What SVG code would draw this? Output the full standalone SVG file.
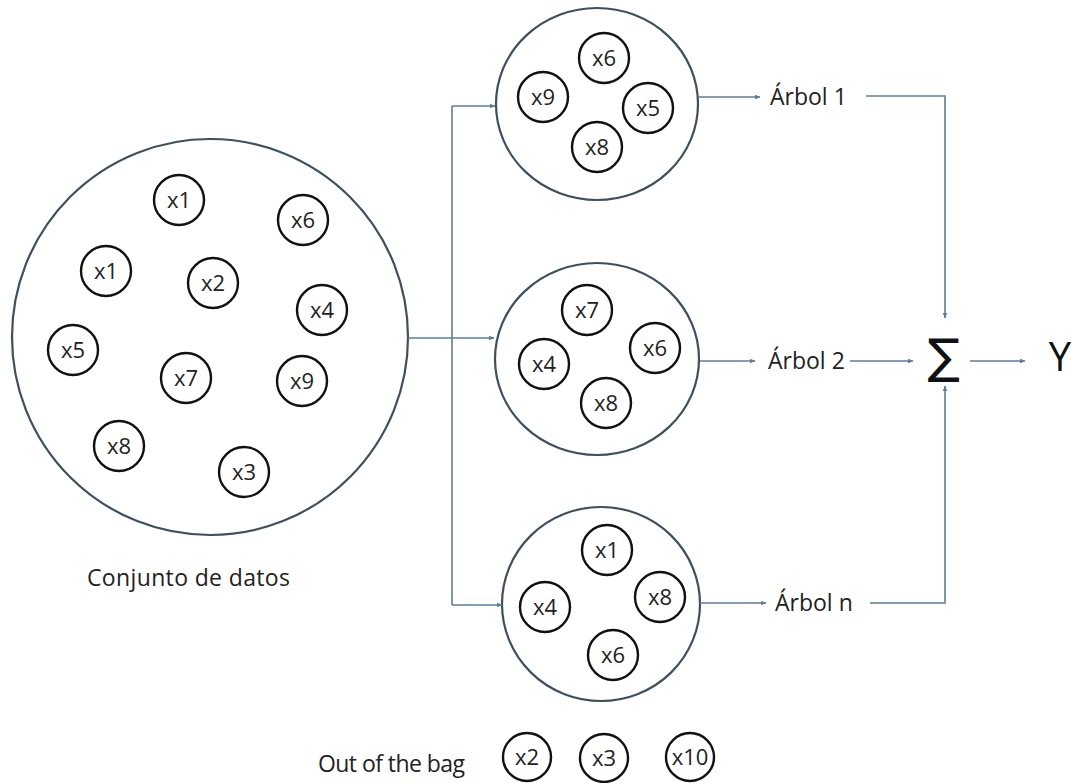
<svg xmlns="http://www.w3.org/2000/svg" width="1072" height="783" viewBox="0 0 1072 783">
<style>
.bag{fill:none;stroke:#3e4f60;stroke-width:2.2}
.it{fill:none;stroke:#111;stroke-width:2.4}
.lb{font-family:"Open Sans","Liberation Sans",sans-serif;font-size:22px;fill:#222;text-anchor:middle}
.tx{font-family:"Open Sans","Liberation Sans",sans-serif;font-size:23px;fill:#222}
.cn{fill:none;stroke:#5e7d98;stroke-width:1.6}
</style>
<defs>
<marker id="ah" viewBox="0 0 10 10" refX="9" refY="5" markerWidth="6" markerHeight="6" orient="auto" markerUnits="userSpaceOnUse">
<path d="M0,1 L10,5 L0,9 z" fill="#5e7d98"/>
</marker>
</defs>
<rect width="1072" height="783" fill="#fff"/>
<g id="conjunto">
<circle class="bag" cx="210" cy="337" r="198"/>
<circle class="it" cx="179" cy="200" r="25"/><text class="lb" x="179" y="208">x1</text>
<circle class="it" cx="303" cy="220" r="25"/><text class="lb" x="303" y="228">x6</text>
<circle class="it" cx="106" cy="271" r="25"/><text class="lb" x="106" y="279">x1</text>
<circle class="it" cx="213" cy="283" r="25"/><text class="lb" x="213" y="291">x2</text>
<circle class="it" cx="322" cy="310" r="25"/><text class="lb" x="322" y="318">x4</text>
<circle class="it" cx="73" cy="350" r="25"/><text class="lb" x="73" y="358">x5</text>
<circle class="it" cx="186" cy="378" r="25"/><text class="lb" x="186" y="386">x7</text>
<circle class="it" cx="302" cy="381" r="25"/><text class="lb" x="302" y="389">x9</text>
<circle class="it" cx="119" cy="446" r="25"/><text class="lb" x="119" y="454">x8</text>
<circle class="it" cx="244" cy="472" r="25"/><text class="lb" x="244" y="480">x3</text>
<text class="tx" x="87" y="586" textLength="203">Conjunto de datos</text>
</g>
<g id="bag1">
<ellipse class="bag" cx="597" cy="104" rx="101" ry="96"/>
<circle class="it" cx="604" cy="58" r="25"/><text class="lb" x="604" y="66">x6</text>
<circle class="it" cx="543" cy="97" r="25"/><text class="lb" x="543" y="105">x9</text>
<circle class="it" cx="648" cy="108" r="25"/><text class="lb" x="648" y="116">x5</text>
<circle class="it" cx="597" cy="147" r="25"/><text class="lb" x="597" y="155">x8</text>
</g>
<g id="bag2">
<ellipse class="bag" cx="597" cy="359" rx="102" ry="96"/>
<circle class="it" cx="587" cy="310" r="25"/><text class="lb" x="587" y="318">x7</text>
<circle class="it" cx="655" cy="348" r="25"/><text class="lb" x="655" y="356">x6</text>
<circle class="it" cx="544" cy="364" r="25"/><text class="lb" x="544" y="372">x4</text>
<circle class="it" cx="606" cy="403" r="25"/><text class="lb" x="606" y="411">x8</text>
</g>
<g id="bagn">
<ellipse class="bag" cx="601" cy="604" rx="99" ry="97"/>
<circle class="it" cx="607" cy="550" r="25"/><text class="lb" x="607" y="558">x1</text>
<circle class="it" cx="660" cy="597" r="25"/><text class="lb" x="660" y="605">x8</text>
<circle class="it" cx="545" cy="607" r="25"/><text class="lb" x="545" y="615">x4</text>
<circle class="it" cx="613" cy="655" r="25"/><text class="lb" x="613" y="663">x6</text>
</g>
<g id="oob">
<text class="tx" x="318" y="772" textLength="147">Out of the bag</text>
<circle class="it" cx="527" cy="757" r="24"/><text class="lb" x="527" y="765">x2</text>
<circle class="it" cx="604" cy="758" r="24"/><text class="lb" x="604" y="766">x3</text>
<circle class="it" cx="690" cy="757" r="24"/><text class="lb" x="690" y="765">x10</text>
</g>
<g id="arbol1"><text class="tx" x="770" y="105">Árbol 1</text></g>
<g id="arbol2"><text class="tx" x="768" y="369">Árbol 2</text></g>
<g id="arboln"><text class="tx" x="775" y="611">Árbol n</text></g>
<g id="sum"><text x="944" y="373" font-family="DejaVu Sans, sans-serif" font-size="48" text-anchor="middle" fill="#111">∑</text></g>
<g id="y"><text x="1060" y="371" font-family="Open Sans, Liberation Sans, sans-serif" font-size="40" text-anchor="middle" fill="#111">Y</text></g>
<g id="connectors">
<path class="cn" d="M408,338 H494" marker-end="url(#ah)"/>
<path class="cn" d="M452,106 V605"/>
<path class="cn" d="M452,106 H495" marker-end="url(#ah)"/>
<path class="cn" d="M452,605 H502" marker-end="url(#ah)"/>
<path class="cn" d="M698,97 H760" marker-end="url(#ah)"/>
<path class="cn" d="M866,96 H945 V318" marker-end="url(#ah)"/>
<path class="cn" d="M700,361 H755" marker-end="url(#ah)"/>
<path class="cn" d="M850,361 H913" marker-end="url(#ah)"/>
<path class="cn" d="M970,361 H1025" marker-end="url(#ah)"/>
<path class="cn" d="M700,603 H766" marker-end="url(#ah)"/>
<path class="cn" d="M870,603 H945 V386" marker-end="url(#ah)"/>
</g>
</svg>
